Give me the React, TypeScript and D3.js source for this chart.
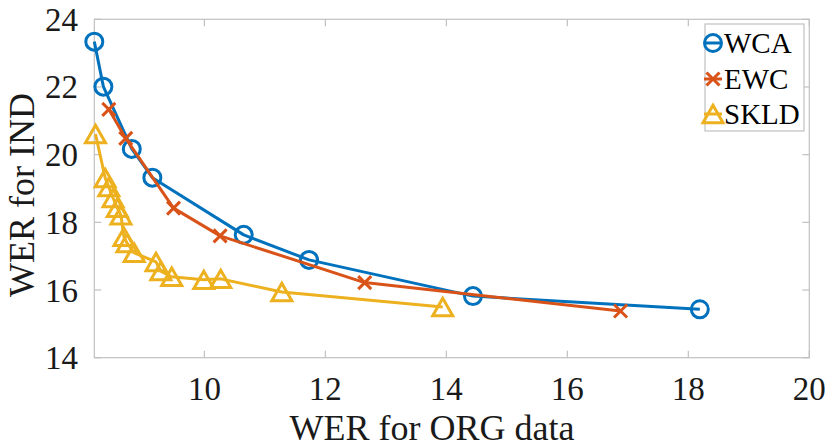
import { useEffect, useRef } from 'react';
import * as d3 from 'd3';

// values
const wcaX = [8.18, 8.33, 8.8, 9.14, 10.65, 11.73, 14.44, 18.19];
const wcaY = [23.34, 22.01, 20.17, 19.32, 17.63, 16.89, 15.82, 15.43];
const ewcX = [8.42, 8.7, 9.49, 10.26, 12.65, 16.88];
const ewcY = [21.34, 20.48, 18.42, 17.6, 16.22, 15.38];
const skldX = [8.2, 8.36, 8.42, 8.49, 8.56, 8.62, 8.67, 8.72, 8.84, 9.2, 9.28, 9.46, 9.99, 10.27, 11.28, 13.94];
const skldY = [20.61, 19.31, 19.04, 18.72, 18.43, 18.21, 17.57, 17.39, 17.1, 16.83, 16.56, 16.39, 16.3, 16.33, 15.94, 15.5];
const xTicks = [10, 12, 14, 16, 18, 20];
const yTicks = [14, 16, 18, 20, 22, 24];
const seriesNames = ['WCA', 'EWC', 'SKLD'];

const colors = ['#0072BD', '#D95319', '#EDB120'];
const font = 'Liberation Serif';

type Marker = 'circle' | 'x' | 'tri';

export default function App() {
  const svgRef = useRef<SVGSVGElement>(null);

  useEffect(() => {
    if (!svgRef.current) return;
    const svg = d3.select(svgRef.current);
    svg.selectAll('*').remove();

    const left = 94.3, right = 809.3, top = 19.3, bottom = 357.7;
    const x = d3.scaleLinear().domain([8.18, 20]).range([left, right]);
    const y = d3.scaleLinear().domain([14, 24]).range([bottom, top]);

    const axisColor = '#c0c0c0';
    const tickLen = 7;

    // box
    svg.append('rect')
      .attr('x', left).attr('y', top)
      .attr('width', right - left).attr('height', bottom - top)
      .attr('fill', 'none').attr('stroke', axisColor).attr('stroke-width', 1.2);

    // ticks (inward, all four sides)
    const ticks = svg.append('g').attr('stroke', axisColor).attr('stroke-width', 1.2);
    xTicks.forEach(t => {
      ticks.append('line').attr('x1', x(t)).attr('x2', x(t)).attr('y1', bottom).attr('y2', bottom - tickLen);
      ticks.append('line').attr('x1', x(t)).attr('x2', x(t)).attr('y1', top).attr('y2', top + tickLen);
    });
    yTicks.forEach(t => {
      ticks.append('line').attr('x1', left).attr('x2', left + tickLen).attr('y1', y(t)).attr('y2', y(t));
      ticks.append('line').attr('x1', right).attr('x2', right - tickLen).attr('y1', y(t)).attr('y2', y(t));
    });

    // tick labels
    svg.append('g').selectAll('text').data(xTicks).enter().append('text')
      .attr('x', d => x(d)).attr('y', 400)
      .attr('text-anchor', 'middle')
      .attr('font-family', font).attr('font-size', 33).attr('fill', '#1a1a1a')
      .text(d => String(d));
    svg.append('g').selectAll('text').data(yTicks).enter().append('text')
      .attr('x', 78).attr('y', d => y(d) + 11.5)
      .attr('text-anchor', 'end')
      .attr('font-family', font).attr('font-size', 33).attr('fill', '#1a1a1a')
      .text(d => String(d));

    // axis titles
    svg.append('text')
      .attr('x', 432).attr('y', 440).attr('text-anchor', 'middle')
      .attr('font-family', font).attr('font-size', 36).attr('fill', '#1a1a1a')
      .text('WER for ORG data');
    svg.append('text')
      .attr('transform', 'translate(34,195) rotate(-90)').attr('text-anchor', 'middle')
      .attr('font-family', font).attr('font-size', 36).attr('fill', '#1a1a1a')
      .text('WER for IND');

    const drawMarker = (g: d3.Selection<SVGGElement, unknown, null, undefined>, kind: Marker, cx: number, cy: number, color: string) => {
      if (kind === 'circle') {
        g.append('circle').attr('cx', cx).attr('cy', cy).attr('r', 8.5)
          .attr('fill', 'none').attr('stroke', color).attr('stroke-width', 3);
      } else if (kind === 'x') {
        const s = 6.5;
        g.append('path')
          .attr('d', `M${cx - s},${cy - s}L${cx + s},${cy + s}M${cx - s},${cy + s}L${cx + s},${cy - s}`)
          .attr('fill', 'none').attr('stroke', color).attr('stroke-width', 3);
      } else {
        const w = 10, h = 8.7;
        g.append('path')
          .attr('d', `M${cx},${cy - h}L${cx + w},${cy + h}L${cx - w},${cy + h}Z`)
          .attr('fill', 'none').attr('stroke', color).attr('stroke-width', 3)
          .attr('stroke-linejoin', 'miter');
      }
    };

    const series: { xs: number[]; ys: number[]; marker: Marker }[] = [
      { xs: wcaX, ys: wcaY, marker: 'circle' },
      { xs: ewcX, ys: ewcY, marker: 'x' },
      { xs: skldX, ys: skldY, marker: 'tri' },
    ];

    const line = d3.line<[number, number]>().x(d => x(d[0])).y(d => y(d[1]));

    series.forEach((s, i) => {
      const g = svg.append('g');
      const pts = s.xs.map((v, j) => [v, s.ys[j]] as [number, number]);
      g.append('path').attr('d', line(pts))
        .attr('fill', 'none').attr('stroke', colors[i]).attr('stroke-width', 3)
        .attr('stroke-linejoin', 'round');
      pts.forEach(p => drawMarker(g, s.marker, x(p[0]), y(p[1]), colors[i]));
    });

    // legend
    const lg = svg.append('g');
    lg.append('rect').attr('x', 705).attr('y', 24).attr('width', 99).attr('height', 107)
      .attr('fill', 'white').attr('stroke', axisColor).attr('stroke-width', 1.2);
    const legendY = [43, 79, 114];
    series.forEach((s, i) => {
      const cy = legendY[i];
      lg.append('line').attr('x1', 704).attr('x2', 722).attr('y1', cy).attr('y2', cy)
        .attr('stroke', colors[i]).attr('stroke-width', 3);
      drawMarker(lg as any, s.marker, 713, cy, colors[i]);
      lg.append('text').attr('x', 724).attr('y', cy + 10)
        .attr('font-family', font).attr('font-size', 29).attr('fill', '#000')
        .text(seriesNames[i]);
    });
  }, []);

  return (
    <div style={{ position: 'absolute', left: 0, top: 0, background: 'white' }}>
      <svg ref={svgRef} width={830} height={448} style={{ display: 'block' }}></svg>
    </div>
  );
}
